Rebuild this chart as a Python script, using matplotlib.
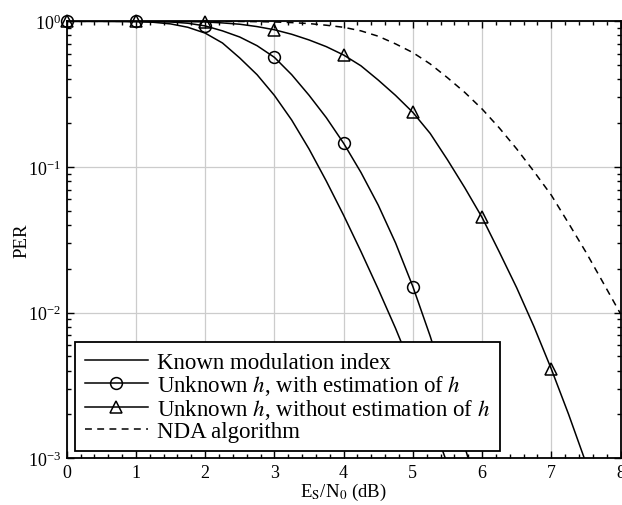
import matplotlib
matplotlib.use("Agg")
import matplotlib.pyplot as plt
from matplotlib.lines import Line2D
from matplotlib.ticker import LogLocator, MultipleLocator, NullFormatter
import numpy as np

plt.rcParams['font.family'] = ['Liberation Serif', 'DejaVu Serif']
plt.rcParams['mathtext.fontset'] = 'stix'
plt.rcParams['axes.unicode_minus'] = False

# E_S/N_0 grid (dB)
snr = [0.0, 0.25, 0.5, 0.75, 1.0, 1.25, 1.5, 1.75, 2.0, 2.25, 2.5, 2.75, 3.0, 3.25,
       3.5, 3.75, 4.0, 4.25, 4.5, 4.75, 5.0, 5.25, 5.5, 5.75, 6.0, 6.25, 6.5, 6.75,
       7.0, 7.25, 7.5, 7.75, 8.0]

per_known = [1.0, 1.0, 1.0, 0.998, 0.995, 0.985, 0.96, 0.91, 0.83, 0.71, 0.56, 0.43,
             0.31, 0.21, 0.133, 0.080, 0.0466, 0.0263, 0.0145, 0.0078, 0.0040, 0.00195,
             0.00091]

per_est = [1.0, 1.0, 1.0, 1.0, 0.998, 0.995, 0.99, 0.97, 0.93, 0.86, 0.78, 0.68,
           0.566, 0.43, 0.311, 0.218, 0.1455, 0.0918, 0.0547, 0.0301, 0.0151, 0.0069,
           0.0029, 0.0012, 0.00047]

per_noest = [1.0, 1.0, 1.0, 1.0, 1.0, 1.0, 0.998, 0.996, 0.99, 0.975, 0.955, 0.92,
             0.875, 0.815, 0.745, 0.67, 0.587, 0.495, 0.395, 0.31, 0.237, 0.17,
             0.112, 0.072, 0.045, 0.026, 0.0148, 0.0080, 0.0041, 0.0020, 0.00093]

per_nda = [1.0, 1.0, 1.0, 1.0, 1.0, 1.0, 1.0, 1.0, 1.0, 0.999, 0.998, 0.995, 0.99,
           0.98, 0.965, 0.94, 0.91, 0.86, 0.79, 0.70, 0.61, 0.51, 0.41, 0.325, 0.25,
           0.185, 0.133, 0.093, 0.064, 0.041, 0.026, 0.016, 0.0098]

labels = ['Known modulation index',
          'Unknown $h$, with estimation of $h$',
          'Unknown $h$, without estimation of $h$',
          'NDA algorithm']

YMIN, YMAX = 1e-3, 1

fig = plt.figure(figsize=(6.22, 5.06), dpi=100)
ax = fig.add_axes([0.1072, 0.0923, 0.8905, 0.8636])

lw = 1.1
ms_o, ms_t = 8.5, 9
x = np.array(snr)


def integer_points(vals):
    idx = [i for i in range(len(vals))
           if float(snr[i]).is_integer() and vals[i] >= YMIN]
    return x[idx], np.array(vals)[idx]


ax.plot(x[:len(per_known)], per_known, color='black', lw=lw)
ax.plot(x[:len(per_est)], per_est, color='black', lw=lw)
ax.plot(x[:len(per_noest)], per_noest, color='black', lw=lw)
ax.plot(x[:len(per_nda)], per_nda, color='black', lw=lw, dashes=(4.5, 3.5))

mx, my = integer_points(per_est)
ax.plot(mx, my, ls='none', marker='o', ms=ms_o, mfc='none', mec='black', mew=1.1,
        clip_on=False, zorder=3)
mx, my = integer_points(per_noest)
ax.plot(mx, my, ls='none', marker='^', ms=ms_t, mfc='none', mec='black', mew=1.1,
        clip_on=False, zorder=3)

ax.set_yscale('log')
ax.set_xlim(0, 8)
ax.set_ylim(YMIN, YMAX)
ax.xaxis.set_major_locator(MultipleLocator(1))
ax.xaxis.set_minor_locator(MultipleLocator(0.2))
ax.yaxis.set_major_locator(LogLocator(base=10, numticks=10))
ax.yaxis.set_minor_locator(LogLocator(base=10, subs=np.arange(2, 10), numticks=20))
ax.yaxis.set_minor_formatter(NullFormatter())

ax.grid(True, which='major', color='#cccccc', lw=0.9)
ax.set_axisbelow(True)
ax.tick_params(which='both', direction='in', top=True, right=True, labelsize=13,
               width=1.0, color='black')
ax.tick_params(which='major', length=5, pad=4)
ax.tick_params(which='minor', length=3)
for s in ax.spines.values():
    s.set_linewidth(1.3)

ax.set_xlabel('E$_\\mathrm{S}$/N$_0$ (dB)', fontsize=13.5, labelpad=0)
ax.set_ylabel('PER', fontsize=13.5, labelpad=-2)

handles = [Line2D([], [], color='black', lw=lw),
           Line2D([], [], color='black', lw=lw, marker='o', ms=ms_o, mfc='none', mew=1.1),
           Line2D([], [], color='black', lw=lw, marker='^', ms=ms_t, mfc='none', mew=1.1),
           Line2D([], [], color='black', lw=lw, dashes=(4.5, 3.5))]
leg = ax.legend(handles, labels, loc='lower left', bbox_to_anchor=(0.015, 0.016),
                borderaxespad=0, fontsize=16.5, handlelength=2.75, handletextpad=0.4,
                labelspacing=0.0, borderpad=0.42, fancybox=False, framealpha=1,
                edgecolor='black', numpoints=1)
leg.get_frame().set_linewidth(1.3)
leg.set_zorder(5)

fig.savefig('out.png', dpi=100)
